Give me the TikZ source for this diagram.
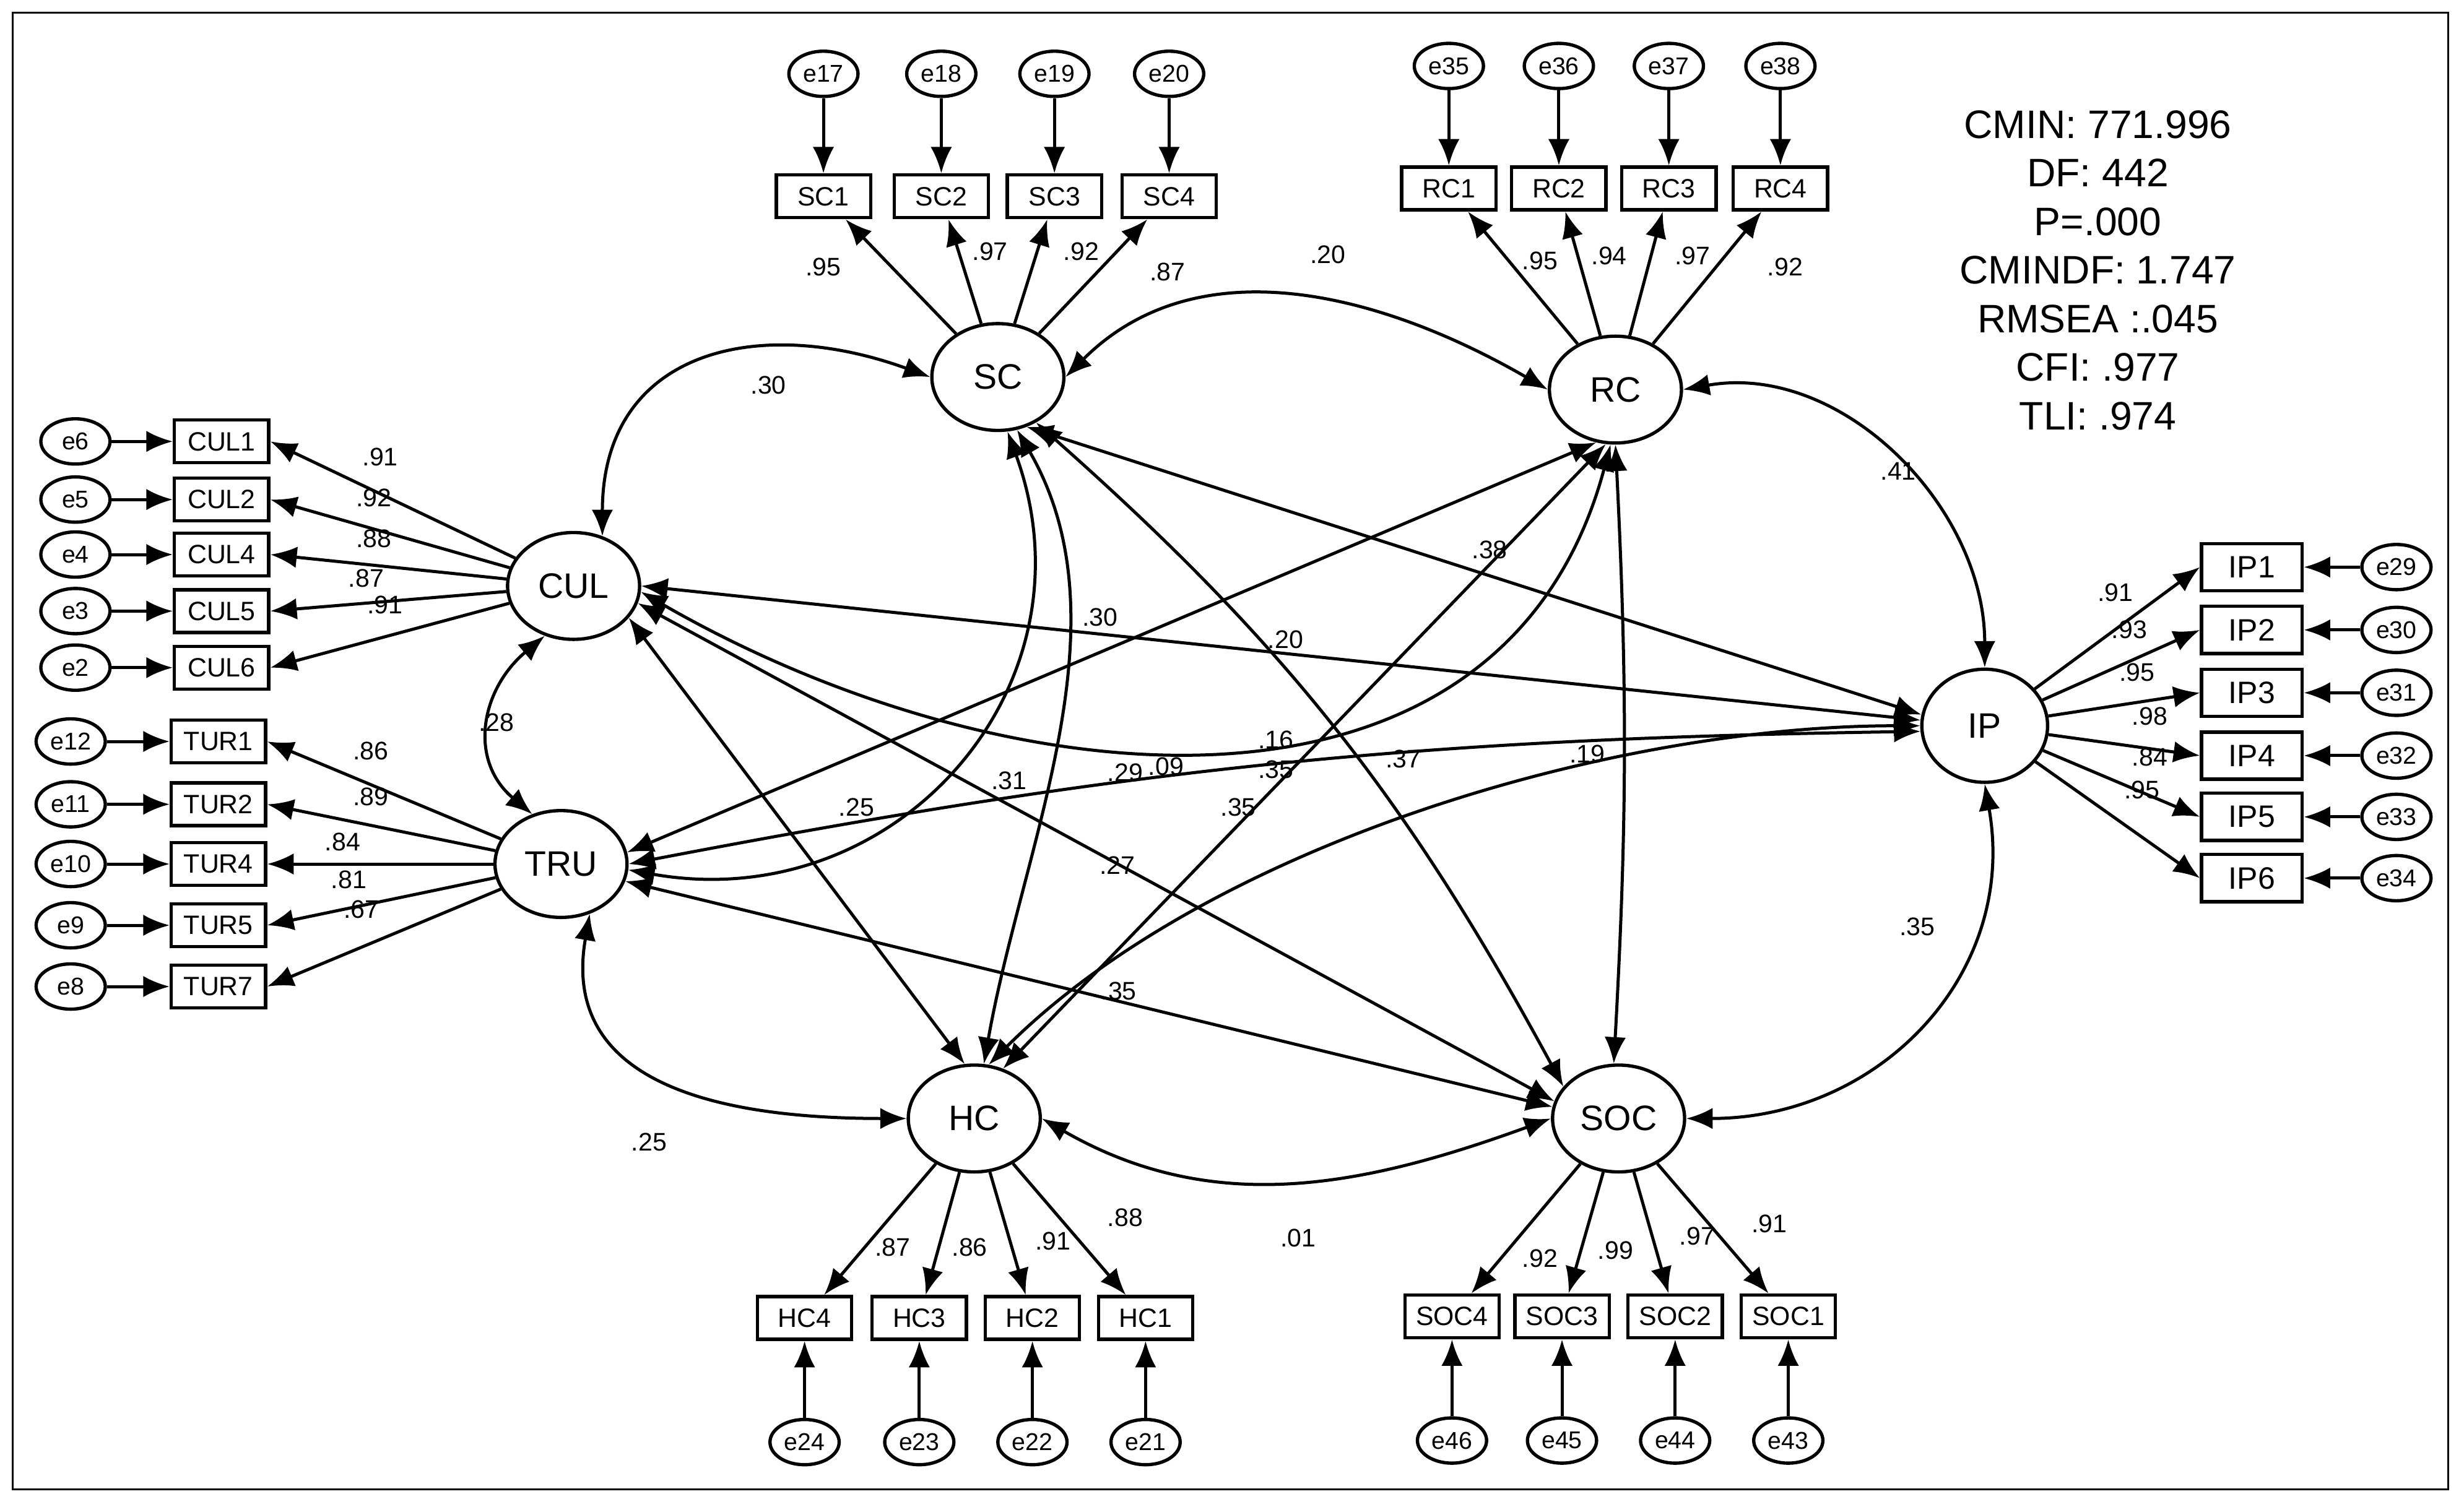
\documentclass[tikz,border=0pt]{standalone}
\usepackage{fontspec}
\setmainfont{Liberation Sans}
\usetikzlibrary{arrows.meta,shapes.geometric}
\begin{document}
\begin{tikzpicture}[x=0.025cm,y=-0.025cm,
 tip/.tip={Latex[length=0.42cm,width=0.34cm]},
 arr/.style={-tip,line width=1.4pt},
 dbl/.style={tip-tip,line width=1.4pt},
 ind/.style={draw,rectangle,line width=1.5pt,minimum width=1.5cm,minimum height=0.68cm,inner sep=1pt,font=\fontsize{12}{12}\selectfont},
 err/.style={draw,ellipse,line width=1.5pt,minimum width=1.1cm,minimum height=0.72cm,inner sep=0pt,font=\fontsize{11}{11}\selectfont},
 lat/.style={draw,ellipse,line width=1.5pt,minimum width=2.1cm,minimum height=1.7cm,inner sep=0pt,font=\fontsize{16}{16}\selectfont},
 lbl/.style={font=\fontsize{11.5}{11.5}\selectfont,inner sep=0pt}]
\useasboundingbox (0,0) rectangle (1568,959);
\draw[line width=1pt] (8,8) rectangle (1558,948);
% latents
\node[lat] (SC) at (635,240) {SC};
\node[lat] (RC) at (1028,248) {RC};
\node[lat] (CUL) at (365,373) {CUL};
\node[lat] (TRU) at (357,550) {TRU};
\node[lat,minimum width=2cm,minimum height=1.8cm] (IP) at (1263,462) {IP};
\node[lat] (HC) at (620,712) {HC};
\node[lat] (SOC) at (1030,712) {SOC};
% SC
\foreach \n/\e/\x/\lx/\ly/\l in {1/17/524/524/170/.95,2/18/599/630/160/.97,3/19/671/688/160/.92,4/20/744/743/173/.87}{
 \node[ind] (SC\n) at (\x,125) {SC\n};
 \node[err] (e\e) at (\x,47) {e\e};
 \draw[arr] (e\e) -- (SC\n);
 \draw[arr] (SC) -- (SC\n);
 \node[lbl] (lsc\n) at (\lx,\ly) {\l};}
% RC
\foreach \n/\e/\x/\lx/\ly/\l in {1/35/922/980/166/.95,2/36/992/1024/163/.94,3/37/1062/1077/163/.97,4/38/1133/1136/170/.92}{
 \node[ind] (RC\n) at (\x,120) {RC\n};
 \node[err] (e\e) at (\x,42) {e\e};
 \draw[arr] (e\e) -- (RC\n);
 \draw[arr] (RC) -- (RC\n);
 \node[lbl] (lrc\n) at (\lx,\ly) {\l};}
% CUL
\foreach \n/\e/\y/\lx/\ly/\l in {1/6/281/242/291/.91,2/5/318/238/317/.92,4/4/353/238/343/.88,5/3/389/233/368/.87,6/2/425/245/385/.91}{
 \node[ind] (CUL\n) at (141,\y) {CUL\n};
 \node[err] (e\e) at (48,\y) {e\e};
 \draw[arr] (e\e) -- (CUL\n);
 \draw[arr] (CUL) -- (CUL\n.east);
 \node[lbl] (lcul\n) at (\lx,\ly) {\l};}
% TUR
\foreach \n/\e/\y/\lx/\ly/\l in {1/12/472/236/478/.86,2/11/512/236/507/.89,4/10/550/218/536/.84,5/9/589/222/560/.81,7/8/628/230/579/.67}{
 \node[ind] (TUR\n) at (139,\y) {TUR\n};
 \node[err] (e\e) at (45,\y) {e\e};
 \draw[arr] (e\e) -- (TUR\n);
 \draw[arr] (TRU) -- (TUR\n.east);
 \node[lbl] (ltur\n) at (\lx,\ly) {\l};}
% IP
\foreach \n/\e/\y/\lx/\ly/\l in {1/29/361/1346/377/.91,2/30/401/1355/401/.93,3/31/441/1360/428/.95,4/32/481/1368/456/.98,5/33/520/1368/482/.84,6/34/559/1363/503/.95}{
 \node[ind,minimum width=1.6cm,minimum height=0.75cm,font=\fontsize{14}{14}\selectfont] (IP\n) at (1433,\y) {IP\n};
 \node[err] (e\e) at (1525,\y) {e\e};
 \draw[arr] (e\e) -- (IP\n);
 \draw[arr] (IP) -- (IP\n.west);
 \node[lbl] (lip\n) at (\lx,\ly) {\l};}
% HC
\foreach \n/\e/\x/\lx/\ly/\l in {4/24/512/568/794/.87,3/23/585/617/794/.86,2/22/657/670/790/.91,1/21/729/716/775/.88}{
 \node[ind] (HC\n) at (\x,839) {HC\n};
 \node[err] (e\e) at (\x,918) {e\e};
 \draw[arr] (e\e) -- (HC\n);
 \draw[arr] (HC) -- (HC\n);
 \node[lbl] (lhc\n) at (\lx,\ly) {\l};}
% SOC
\foreach \n/\e/\x/\lx/\ly/\l in {4/46/924/980/801/.92,3/45/994/1028/796/.99,2/44/1066/1080/787/.97,1/43/1138/1126/779/.91}{
 \node[ind] (SOC\n) at (\x,838) {SOC\n};
 \node[err] (e\e) at (\x,917) {e\e};
 \draw[arr] (e\e) -- (SOC\n);
 \draw[arr] (SOC) -- (SOC\n);
 \node[lbl] (lsoc\n) at (\lx,\ly) {\l};}
% outer covariances
\draw[dbl] (SC.west) to[out=160,in=90,looseness=1.3] (CUL.60);
\draw[dbl] (SC.east) to[out=45,in=150,looseness=1] (RC.west);
\draw[dbl] (RC.east) to[out=10,in=90,looseness=1] (IP.north);
\draw[dbl] (CUL.240) to[out=220,in=140,looseness=1.2] (TRU.120);
\draw[dbl] (TRU.-60) to[out=-100,in=180,looseness=1.2] (HC.west);
\draw[dbl] (HC.east) to[out=-30,in=200,looseness=1] (SOC.west);
\draw[dbl] (SOC.east) to[out=0,in=-80,looseness=1.1] (IP.south);
\node[lbl] (c1) at (489,245) {.30};
\node[lbl] (c2) at (845,162) {.20};
\node[lbl] (c3) at (1208,300) {.41};
\node[lbl] (c4) at (316,460) {.28};
\node[lbl] (c5) at (413,727) {.25};
\node[lbl] (c6) at (826,788) {.01};
\node[lbl] (c7) at (1220,590) {.35};
% inner covariances
\draw[dbl] (SC.-60) -- (IP.170);
\draw[dbl] (CUL.east) -- (IP.175);
\draw[dbl] (RC.-110) -- (TRU.10);
\draw[dbl] (TRU.east) to[bend left=5] (IP.185);
\draw[dbl] (HC.75) to[out=45,in=180,looseness=0.8] (IP.180);
\draw[dbl] (CUL.-30) -- (HC.100);
\draw[dbl] (CUL.-15) -- (SOC.165);
\draw[dbl] (TRU.-15) -- (SOC.170);
\draw[dbl] (RC.-100) -- (HC.60);
\draw[dbl] (RC.-90) to[bend left=3] (SOC.95);
\draw[dbl] (SC.-80) to[out=-70,in=-10,looseness=1.2] (TRU.-5);
\draw[dbl] (CUL.-5) to[out=-30,in=-105,looseness=1.1] (RC.-95);
\draw[dbl] (SC.-70) to[out=-60,in=80,looseness=0.9] (HC.80);
\draw[dbl] (SC.-50) to[bend left=10] (SOC.150);
\node[lbl] (k1) at (948,350) {.38};
\node[lbl] (k2) at (818,407) {.20};
\node[lbl] (k3) at (700,393) {.30};
\node[lbl] (k4) at (893,483) {.37};
\node[lbl] (k5) at (1010,480) {.19};
\node[lbl] (k6) at (545,514) {.25};
\node[lbl] (k7) at (642,497) {.31};
\node[lbl] (k8) at (712,631) {.35};
\node[lbl] (k9) at (788,514) {.35};
\node[lbl] (k10) at (711,551) {.27};
\node[lbl] (k11) at (812,490) {.35};
\node[lbl] (k12) at (812,471) {.16};
\node[lbl] (k13) at (716,492) {.29};
\node[lbl] (k14) at (742,488) {.09};
% fit
\node[align=center,font=\fontsize{18}{22}\selectfont] (fit) at (1335,172) {CMIN: 771.996\\DF: 442\\P=.000\\CMINDF: 1.747\\RMSEA :.045\\CFI: .977\\TLI: .974};
\end{tikzpicture}
\end{document}
